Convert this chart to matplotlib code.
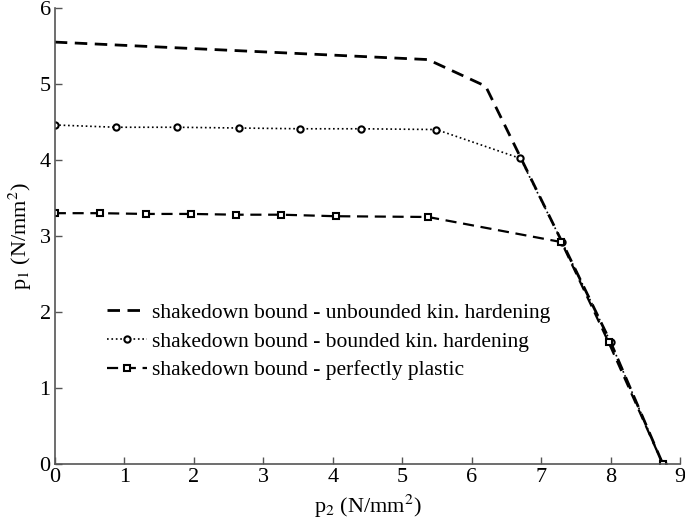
import matplotlib
matplotlib.use("Agg")
import matplotlib.pyplot as plt

plt.rcParams['font.family'] = ['Liberation Serif', 'DejaVu Serif']
plt.rcParams['mathtext.fontset'] = 'stix'

# unbounded kinematic hardening
x_unb = [0, 5.37, 6.2, 7.3, 8.0, 8.75]
y_unb = [5.55, 5.32, 4.97, 2.92, 1.6, 0.0]

# bounded kinematic hardening
x_bnd = [0, 0.88, 1.76, 2.65, 3.53, 4.40, 5.49, 6.70, 7.3, 8.0, 8.75]
y_bnd = [4.46, 4.43, 4.43, 4.42, 4.41, 4.41, 4.40, 4.02, 2.92, 1.6, 0.0]

# perfectly plastic
x_pp = [0, 0.65, 1.31, 1.96, 2.61, 3.26, 4.04, 5.37, 7.29, 7.97, 8.75]
y_pp = [3.30, 3.30, 3.29, 3.29, 3.28, 3.28, 3.26, 3.25, 2.92, 1.6, 0.0]

labels = ['shakedown bound - unbounded kin. hardening',
          'shakedown bound - bounded kin. hardening',
          'shakedown bound - perfectly plastic']

fig = plt.figure(figsize=(6.85, 5.25), dpi=100)
ax = fig.add_axes([0.080, 0.116, 0.913, 0.869])

ax.plot(x_unb, y_unb, color='black', linestyle=(0, (4.5, 2.7)), linewidth=2.0,
        label=labels[0])
ax.plot(x_bnd, y_bnd, color='black', linestyle=':', linewidth=1.2,
        marker='o', markersize=4.5, markerfacecolor='white',
        markeredgewidth=1.5, label=labels[1])
ax.plot(x_pp, y_pp, color='black', linestyle=(0, (5, 3)), linewidth=1.6,
        marker='s', markersize=5, markerfacecolor='white',
        markeredgewidth=1.5, label=labels[2])

ax.set_xlim(0, 9)
ax.set_ylim(0, 6)
ax.set_xticks(range(0, 10))
ax.set_yticks(range(0, 7))
ax.spines['top'].set_visible(False)
ax.spines['right'].set_visible(False)
for s in ('left', 'bottom'):
    ax.spines[s].set_color('#555555')
    ax.spines[s].set_linewidth(1.2)
ax.tick_params(direction='in', length=5, width=1, colors='#555555',
               labelcolor='black', labelsize=16, pad=3)

ax.set_xlabel(r'p$_2$ (N/mm$^2$)', fontsize=16, labelpad=4)
ax.set_ylabel(r'p$_1$ (N/mm$^2$)', fontsize=16, labelpad=4)

ax.legend(loc='lower left', bbox_to_anchor=(0.069, 0.165), frameon=False,
          borderaxespad=0, fontsize=15.5, handlelength=1.9,
          handletextpad=0.2, labelspacing=0.4)

fig.savefig('out.png', dpi=100)
